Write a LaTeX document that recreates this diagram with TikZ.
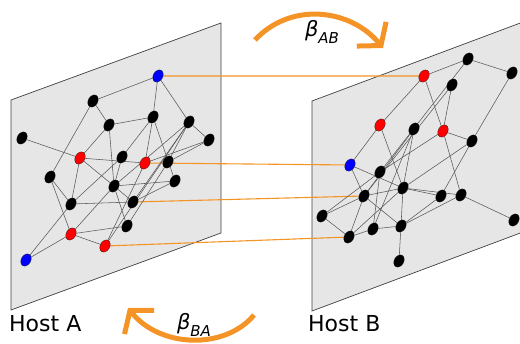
\documentclass[tikz,border=0pt]{standalone}
\usepackage{fontspec}
\setmainfont{DejaVu Sans}
\usetikzlibrary{shapes.geometric,arrows.meta}
\definecolor{org}{RGB}{245,148,38}
\definecolor{pnl}{RGB}{230,230,230}
\definecolor{nred}{RGB}{255,0,0}
\definecolor{nblue}{RGB}{0,0,255}
\pgfdeclarelayer{back}
\pgfdeclarelayer{mid}
\pgfsetlayers{back,mid,main}
\begin{document}
\begin{tikzpicture}[x=1pt,y=-1pt,
  panel/.style={fill=pnl,draw=black!75,line width=0.7pt},
  gnode/.style={ellipse,draw=black!85,line width=0.3pt,minimum width=13pt,minimum height=9.5pt,inner sep=0pt,rotate=60},
  bk/.style={gnode,fill=black},
  rd/.style={gnode,fill=nred},
  bl/.style={gnode,fill=nblue},
  edge/.style={draw=black!65,line width=0.55pt},
  link/.style={draw=org,line width=1.1pt},
  bendarrow/.style={draw=org,line width=5pt,-{Straight Barb[length=15pt,width=38pt]}},
  lbl/.style={font=\fontsize{22}{24}\selectfont,inner sep=0pt},
  blbl/.style={font=\fontsize{21}{24}\selectfont\itshape,inner sep=0pt}
]
\useasboundingbox (0,0) rectangle (520,344);

% panels
\begin{pgfonlayer}{back}
\path[panel] (11,100) -- (221,23) -- (221,233) -- (11,310) -- cycle;
\fill[pnl] (312,101) -- (523,22) -- (523,232) -- (312,311) -- cycle;
\draw[black!75,line width=0.7pt] (523,22) -- (312,101) -- (312,311) -- (523,232);
\end{pgfonlayer}

% left graph nodes
\node[bl] (lb1) at (158,76) {};
\node[bk] (la1) at (93,101) {};
\node[bk] (la2) at (109,125) {};
\node[bk] (la3) at (153,117) {};
\node[bk] (la4) at (189,122) {};
\node[bk] (la5) at (209,140) {};
\node[bk] (la6) at (22,138) {};
\node[rd] (lr1) at (80,158) {};
\node[bk] (la7) at (122,157) {};
\node[rd] (lr2) at (145,163) {};
\node[bk] (la8) at (168,162) {};
\node[bk] (la9) at (50,177) {};
\node[bk] (la10) at (114,186) {};
\node[bk] (la11) at (175,181) {};
\node[bk] (la12) at (71,204) {};
\node[bk] (la13) at (133,202) {};
\node[bk] (la14) at (127,226) {};
\node[rd] (lr3) at (71,234) {};
\node[rd] (lr4) at (105,246) {};
\node[bl] (lb2) at (26,260) {};

% right graph nodes
\node[rd] (rr1) at (424,76) {};
\node[bk] (ra1) at (468,59) {};
\node[bk] (ra2) at (512,73) {};
\node[bk] (ra3) at (452,85) {};
\node[rd] (rr2) at (380,125) {};
\node[bk] (ra4) at (414,129) {};
\node[rd] (rr3) at (443,131) {};
\node[bk] (ra5) at (472,141) {};
\node[bl] (rb) at (350,165) {};
\node[bk] (ra6) at (380,172) {};
\node[bk] (ra7) at (403,188) {};
\node[bk] (ra8) at (364,196) {};
\node[bk] (ra9) at (441,196) {};
\node[bk] (ra10) at (461,195) {};
\node[bk] (ra11) at (322,216) {};
\node[bk] (ra12) at (373,229) {};
\node[bk] (ra13) at (401,226) {};
\node[bk] (ra14) at (349,237) {};
\node[bk] (ra15) at (514,220) {};
\node[bk] (ra16) at (399,261) {};

\begin{pgfonlayer}{mid}
% orange links
\draw[link] (lb1) -- (rr1);
\draw[link] (lr2) -- (rb);
\draw[link] (la13) -- (ra8);
\draw[link] (lr4) -- (ra14);
% left edges
\foreach \a/\b in {lb1/la1,lb1/la3,lb1/la4,la1/la2,la1/la9,la2/la3,la2/lr1,la2/la10,
  la6/lr1,lr1/lr2,lr1/la10,lr1/la12,la3/la7,la7/la12,la3/lr2,la3/la11,
  la4/la5,la4/la8,la4/la13,la4/lr4,la4/la10,la5/lr2,la5/la8,la7/la10,
  la9/la12,la9/lr3,la10/la11,la10/la14,la10/lr3,la10/la13,la12/la13,la12/lb2,
  la13/la11,lr3/lb2,lr3/la14,lr3/lr4,lr4/lr2,la14/la8}
  \draw[edge] (\a) -- (\b);
% right edges
\foreach \a/\b in {rr1/ra1,rr1/rr2,rr1/rr3,ra1/ra2,ra1/ra6,ra3/ra8,ra3/rr3,ra2/ra5,
  rr2/rb,rr2/ra7,ra4/ra8,ra4/ra7,ra4/ra12,rr3/ra5,rr3/ra10,rr3/ra6,
  ra5/ra7,ra5/ra9,rb/ra7,rb/ra8,ra6/ra11,ra6/ra12,ra7/ra8,ra7/ra9,ra7/ra10,
  ra7/ra13,ra7/ra14,ra8/ra11,ra8/ra14,ra8/ra13,ra11/ra14,ra9/ra13,ra10/ra13,
  ra10/ra15,ra13/ra16,ra12/ra13,ra14/ra12}
  \draw[edge] (\a) -- (\b);
\end{pgfonlayer}

% curved arrows
\coordinate (abS) at (255,40);
\coordinate (abE) at (383,48);
\draw[bendarrow] (abS) .. controls (290,2) and (350,8) .. (abE);
\coordinate (baS) at (254,315);
\coordinate (baE) at (128,308);
\draw[bendarrow] (baS) .. controls (225,350) and (160,348) .. (baE);

% labels
\node[blbl] (bAB) at (322,32) {β\raisebox{-0.3em}{\fontsize{15}{15}\selectfont AB}};
\node[blbl] (bBA) at (194,325) {β\raisebox{-0.3em}{\fontsize{15}{15}\selectfont BA}};
\node[lbl,anchor=west] (hA) at (9,323.5) {Host A};
\node[lbl,anchor=west] (hB) at (308,323.5) {Host B};
\end{tikzpicture}
\end{document}
